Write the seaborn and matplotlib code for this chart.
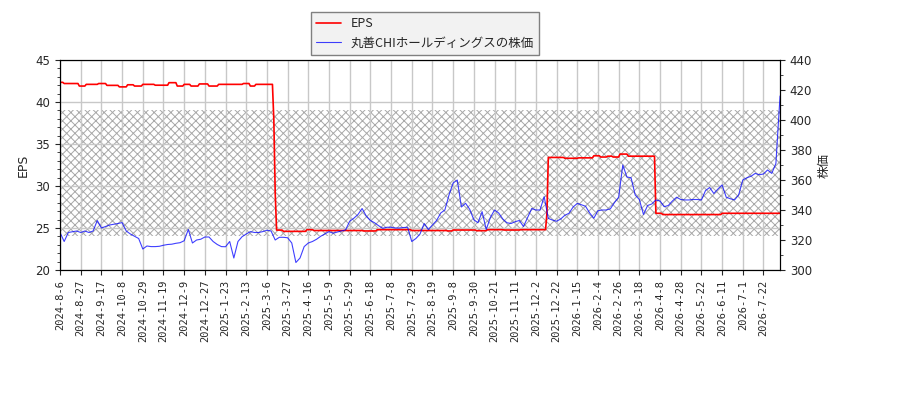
import numpy as np
import matplotlib
matplotlib.use('Agg')
import matplotlib.pyplot as plt
from matplotlib.ticker import MultipleLocator
import seaborn as sns

# EPS as (level, number of trading days)
eps_levels = [42.34, 42.2, 41.9, 42.1, 42.2, 41.98, 41.8, 42.05, 41.9, 42.1,
              42.0, 42.3, 41.9, 42.1, 41.9, 42.15, 41.9, 42.1, 42.2, 41.9,
              42.1, 37.9, 29.2, 24.75, 24.6, 24.8, 24.7, 24.65, 24.8, 24.7,
              24.65, 24.76, 24.68, 24.8, 24.76, 24.8, 26.75, 33.4, 33.3, 33.35,
              33.6, 33.45, 33.55, 33.45, 33.8, 33.55, 26.75, 26.6, 26.75]
eps_runs = [3, 11, 5, 9, 6, 9, 6, 5, 6, 9,
            10, 6, 5, 5, 6, 7, 7, 18, 5, 4,
            13, 1, 1, 5, 17, 5, 36, 10, 25, 26,
            4, 17, 8, 12, 12, 19, 1, 12, 10, 11,
            5, 5, 4, 5, 6, 20, 5, 43, 43]

# share price, read every 3 trading days
price = [325, 319, 325, 325.5, 326, 325, 326, 325, 326, 333,
         328, 329, 330, 330.5, 331, 331.6, 326, 324, 322.5, 321,
         314, 316, 315.6, 315.6, 315.8, 316.5, 317, 317.2, 317.8, 318.2,
         319.5, 327, 318, 320, 320.5, 322, 322, 319, 317, 315.6,
         315.5, 319, 308, 319, 322.2, 324, 325.6, 325, 325, 325.6,
         326.5, 326, 320, 321.8, 321.8, 321.5, 318, 305, 308, 315.6,
         318, 319, 320.5, 322.5, 324, 325.6, 324.5, 325.3, 326, 326.7,
         332.5, 334.5, 337, 341, 336, 333, 331.5, 329.5, 327.8, 328.5,
         328.5, 328, 328, 328.3, 328.5, 319, 321, 324, 331, 327,
         330, 333, 338, 340, 350, 358, 360, 342, 344.5, 340.5,
         333.5, 331.5, 338.9, 327, 335, 340, 338, 334, 331.5, 331,
         332.2, 333, 329, 335, 341, 340, 340, 348.9, 334.4, 333.3,
         332.5, 334, 336.5, 337.8, 342, 344.4, 343.5, 342.5, 338, 334.5,
         339.5, 340, 340, 340.8, 345, 348.5, 370, 362, 361.5, 350,
         347, 337, 343, 344, 346.7, 346, 342.2, 343, 346, 348.5,
         347, 346.7, 346.7, 347, 347, 346.7, 353, 355, 351, 354,
         356.7, 348.5, 347.5, 346.7, 350, 360, 361.5, 362.5, 364.4, 363.5,
         364, 366.7, 364.4, 371, 416]

tick_labels = ['2024-8-6', '2024-8-27', '2024-9-17', '2024-10-8', '2024-10-29',
               '2024-11-19', '2024-12-9', '2024-12-27', '2025-1-23', '2025-2-13',
               '2025-3-6', '2025-3-27', '2025-4-16', '2025-5-9', '2025-5-29',
               '2025-6-18', '2025-7-8', '2025-7-29', '2025-8-19', '2025-9-8',
               '2025-9-30', '2025-10-21', '2025-11-11', '2025-12-2', '2025-12-22',
               '2026-1-15', '2026-2-4', '2026-2-26', '2026-3-18', '2026-4-8',
               '2026-4-28', '2026-5-22', '2026-6-11', '2026-7-1', '2026-7-22']

band_low, band_high = 24.1, 39.05

eps = np.repeat(eps_levels, eps_runs)
n = len(eps)
eps_x = np.arange(n)
price_x = np.arange(0, n, 3)

sns.set_style('white')
plt.rcParams['font.family'] = ['DejaVu Sans', 'Noto Sans CJK JP']
plt.rcParams['hatch.linewidth'] = 0.7

fig, ax1 = plt.subplots(figsize=(9, 4), dpi=100)
fig.subplots_adjust(left=0.0667, right=0.8667, top=0.85, bottom=0.325)
ax2 = ax1.twinx()

# hatched band behind the lines
ax1.axhspan(band_low, band_high, facecolor='none', edgecolor='#a8a8a8',
            hatch='xxxx', linewidth=0, zorder=0.5)

sns.lineplot(x=eps_x, y=eps, ax=ax1, color='red', linewidth=1.2, label='EPS', legend=False)
sns.lineplot(x=price_x, y=price, ax=ax2, color='blue', linewidth=0.8, alpha=0.75,
             label='丸善CHIホールディングスの株価', legend=False)

ax1.set_xlim(0, n - 1)
ax1.set_ylim(20, 45)
ax2.set_ylim(300, 440)
ax1.yaxis.set_minor_locator(MultipleLocator(1))
ax2.yaxis.set_minor_locator(MultipleLocator(10))
ax1.set_xticks(np.arange(0, n, 15)[:len(tick_labels)])
ax1.set_xticklabels(tick_labels, rotation=90, fontsize=7.5, family='DejaVu Sans Mono')
ax1.tick_params(axis='y', labelsize=8.5, which='both', left=True, direction='out')
ax1.tick_params(axis='x', bottom=True, direction='out')
ax2.tick_params(axis='y', labelsize=8.5, which='both', right=True, direction='out')
ax1.grid(True, color='#c8c8c8', linewidth=1)
ax1.set_axisbelow(True)
ax1.set_xlabel('')
ax1.set_ylabel('EPS', fontsize=9)
ax2.set_ylabel('株価', fontsize=9, family=['Noto Sans CJK JP'])
for sp in list(ax1.spines.values()) + list(ax2.spines.values()):
    sp.set_color('black')
    sp.set_linewidth(0.8)

h1, l1 = ax1.get_legend_handles_labels()
h2, l2 = ax2.get_legend_handles_labels()
leg = fig.legend(h1 + h2, l1 + l2, loc='upper center', bbox_to_anchor=(0.4725, 0.985),
                 fancybox=False, framealpha=1, facecolor='#f2f2f2', edgecolor='#808080',
                 prop={'family': ['Noto Sans CJK JP'], 'size': 9})

plt.savefig('out.png', dpi=100)
